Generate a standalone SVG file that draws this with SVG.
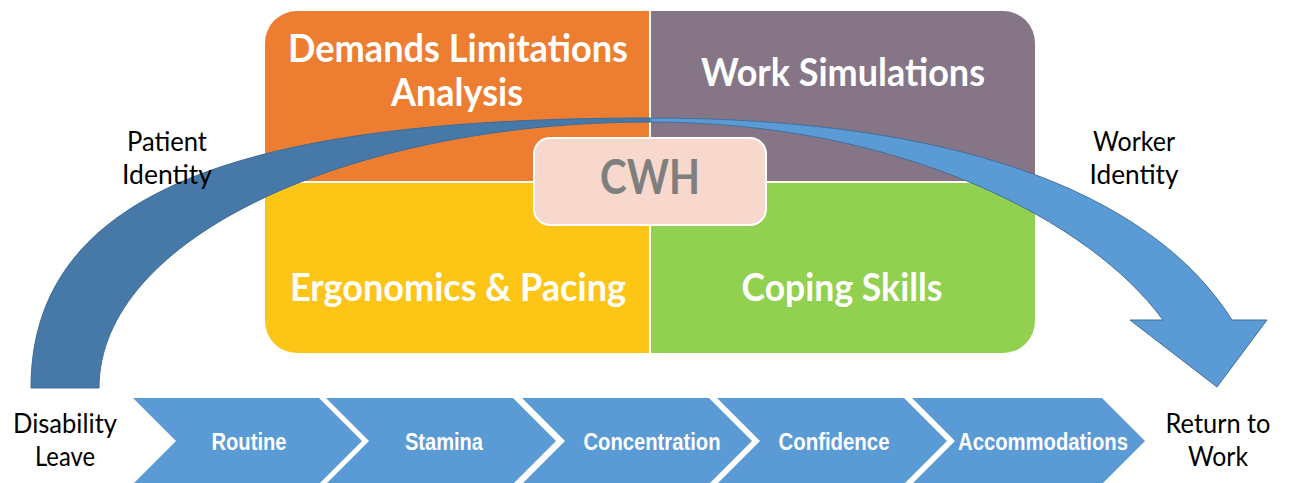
<svg xmlns="http://www.w3.org/2000/svg" width="1289" height="483" viewBox="0 0 1289 483">
  <defs>
    <style>
      .quad { font-family: Lato, "Open Sans", sans-serif; font-weight: bold; font-size: 39px; fill: #ffffff; text-anchor: middle; }
      .side { font-family: Lato, "Open Sans", sans-serif; font-size: 27px; fill: #000000; text-anchor: middle; }
      .chev { fill: #5B9BD5; }
      .chevt { font-family: "Liberation Sans", Arial, sans-serif; font-weight: bold; font-size: 23px; fill: #ffffff; text-anchor: middle; }
      .cwh { font-family: Lato, "Open Sans", sans-serif; font-weight: bold; font-size: 47px; fill: #7F7F7F; text-anchor: middle; }
    </style>
    <clipPath id="boxclip">
      <rect x="265" y="11" width="770" height="342" rx="32" ry="32"/>
    </clipPath>
  </defs>
  <rect x="0" y="0" width="1289" height="483" fill="#ffffff"/>

  <g id="quadrants" clip-path="url(#boxclip)">
    <rect x="265" y="11" width="385" height="171" fill="#ED7D31"/>
    <rect x="650" y="11" width="385" height="171" fill="#857587"/>
    <rect x="265" y="182" width="385" height="171" fill="#FDC516"/>
    <rect x="650" y="182" width="385" height="171" fill="#92D050"/>
    <line x1="650" y1="11" x2="650" y2="353" stroke="#ffffff" stroke-width="2"/>
    <line x1="265" y1="182" x2="1035" y2="182" stroke="#ffffff" stroke-width="2"/>
  </g>
  <g id="node-dla">
    <text class="quad" x="458" y="62" textLength="340" lengthAdjust="spacingAndGlyphs">Demands Limitations</text>
    <text class="quad" x="457" y="106" textLength="132" lengthAdjust="spacingAndGlyphs">Analysis</text>
  </g>
  <g id="node-ws">
    <text class="quad" x="843" y="86" textLength="284" lengthAdjust="spacingAndGlyphs">Work Simulations</text>
  </g>
  <g id="node-ep">
    <text class="quad" x="458" y="301" textLength="336" lengthAdjust="spacingAndGlyphs">Ergonomics &amp; Pacing</text>
  </g>
  <g id="node-cs">
    <text class="quad" x="842" y="301" textLength="201" lengthAdjust="spacingAndGlyphs">Coping Skills</text>
  </g>

  <g id="connectors">
    <path d="M650,118 C250,118 31,188 31,388 L99,388 C99,238 350,122 650,122 Z" fill="#4779A8" stroke="#3E6C97" stroke-width="1"/>
    <path d="M650,118 C950,118 1150,190 1232,320 L1267,320 L1217,387 L1130,320 L1163,320 C1090,220 900,122 650,122 Z" fill="#5B9BD5" stroke="#41719C" stroke-width="1"/>
  </g>

  <g id="node-cwh">
    <rect x="534" y="138" width="232" height="87" rx="16" ry="16" fill="#F8D8CC" stroke="#ffffff" stroke-width="2"/>
    <text class="cwh" x="650" y="194" textLength="100" lengthAdjust="spacingAndGlyphs">CWH</text>
  </g>

  <g id="node-patient">
    <text class="side" x="167" y="151" textLength="80" lengthAdjust="spacingAndGlyphs">Patient</text>
    <text class="side" x="167" y="184" textLength="90" lengthAdjust="spacingAndGlyphs">Identity</text>
  </g>
  <g id="node-worker">
    <text class="side" x="1134" y="151" textLength="82" lengthAdjust="spacingAndGlyphs">Worker</text>
    <text class="side" x="1134" y="184" textLength="89" lengthAdjust="spacingAndGlyphs">Identity</text>
  </g>
  <g id="node-leave">
    <text class="side" x="65" y="433" textLength="104" lengthAdjust="spacingAndGlyphs">Disability</text>
    <text class="side" x="65" y="466" textLength="60" lengthAdjust="spacingAndGlyphs">Leave</text>
  </g>
  <g id="node-rtw">
    <text class="side" x="1218" y="433" textLength="105" lengthAdjust="spacingAndGlyphs">Return to</text>
    <text class="side" x="1218" y="466" textLength="60" lengthAdjust="spacingAndGlyphs">Work</text>
  </g>

  <g id="node-routine">
    <polygon class="chev" points="133,398 319,398 362,441 319,484 133,484 176,441"/>
    <text class="chevt" x="249" y="450" textLength="75" lengthAdjust="spacingAndGlyphs">Routine</text>
  </g>
  <g id="node-stamina">
    <polygon class="chev" points="326,398 513,398 556,441 513,484 326,484 369,441"/>
    <text class="chevt" x="444" y="450" textLength="78" lengthAdjust="spacingAndGlyphs">Stamina</text>
  </g>
  <g id="node-concentration">
    <polygon class="chev" points="522,398 709,398 752,441 709,484 522,484 565,441"/>
    <text class="chevt" x="652" y="450" textLength="137" lengthAdjust="spacingAndGlyphs">Concentration</text>
  </g>
  <g id="node-confidence">
    <polygon class="chev" points="717,398 904,398 947,441 904,484 717,484 760,441"/>
    <text class="chevt" x="834" y="450" textLength="111" lengthAdjust="spacingAndGlyphs">Confidence</text>
  </g>
  <g id="node-accommodations">
    <polygon class="chev" points="912,398 1102,398 1145,441 1102,484 912,484 955,441"/>
    <text class="chevt" x="1043" y="450" textLength="170" lengthAdjust="spacingAndGlyphs">Accommodations</text>
  </g>
</svg>
